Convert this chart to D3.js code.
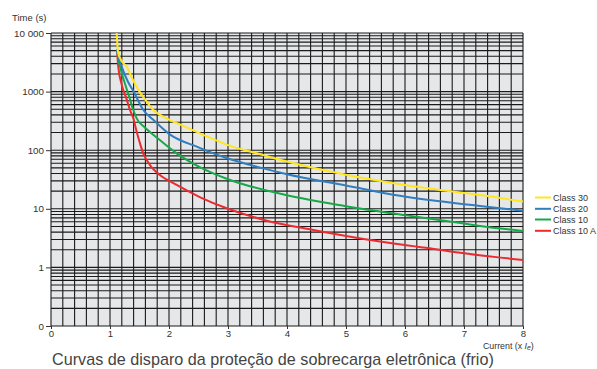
<!DOCTYPE html>
<html><head><meta charset="utf-8">
<script src="https://cdn.jsdelivr.net/npm/d3@7"></script>
<style>
html,body{margin:0;padding:0;background:#fff;}
svg{display:block;font-family:"Liberation Sans",Arial,Helvetica,sans-serif;}
</style></head>
<body>
<script>
// ---- data ----
const xTicks = [0,1,2,3,4,5,6,7,8];
const yTickValues = [0.1,1,10,100,1000,10000];
const yTickLabels = ["0","1","10","100","1000","10 000"];
const seriesNames = ["Class 30","Class 20","Class 10","Class 10 A"];
const seriesColors = ["#ffe61e","#2f7ec2","#17a84a","#ec2a30"];

const class30I = [1.113,1.14,1.2,1.283,1.4,1.5,1.6,1.734,1.96,2.2,2.525,3,3.5,4,5,5.915,7,7.27,8];
const class30T = [10000,4500,3300,2660,1500,1000,720,485,350,270,194,122,88,64,38,26.2,18.6,17.2,13.3];

const class20I = [1.12,1.15,1.198,1.3,1.4,1.565,1.734,2,2.5,3,3.5,4,5,5.915,7,7.27,8];
const class20T = [5200,3700,2660,1500,1000,485,330,190,112,72,52,39,25,16.7,12.0,11.2,9.3];

const class10I = [1.12,1.14,1.17,1.25,1.32,1.395,1.452,1.6,1.79,2.13,2.53,3,4,5,6,7,7.27,8];
const class10T = [5200,3600,2660,1400,850,485,350,240,165,88.5,51,32,17,11.1,7.8,5.6,5.1,4.2];

const class10AI = [1.12,1.14,1.2,1.28,1.339,1.395,1.45,1.508,1.56,1.622,1.7,1.847,2.13,2.53,3,3.627,4.446,5.576,6.42,7,8];
const class10AT = [5200,2660,1300,750,485,350,210,131,90,68,52,37.7,25.5,15.7,10,6.4,4.35,2.76,2.12,1.74,1.34];

// ---- layout ----
const W = 597, H = 369;
const L = 51, R = 523, T = 33, B = 326;

const svg = d3.select("body").append("svg").attr("width",W).attr("height",H);

const x = d3.scaleLinear().domain([0,8]).range([L,R]);
const y = d3.scaleLog().domain([0.1,10000]).range([B,T]);

// background
svg.append("rect").attr("x",L).attr("y",T).attr("width",R-L).attr("height",B-T).attr("fill","#e6e7e8");

// grid
const g = svg.append("g");
const vLines = d3.range(0,41).map(i=>i*0.2);
g.selectAll("line.v").data(vLines).join("line")
  .attr("x1",d=>x(d)).attr("x2",d=>x(d)).attr("y1",T).attr("y2",B)
  .attr("stroke","#1a1a1a").attr("stroke-width",1.1);
const hLines = [];
for (let e=-1;e<4;e++){ for(let m=1;m<10;m++){ hLines.push(m*Math.pow(10,e)); } }
hLines.push(10000);
g.selectAll("line.h").data(hLines).join("line")
  .attr("x1",L).attr("x2",R).attr("y1",d=>y(d)).attr("y2",d=>y(d))
  .attr("stroke","#1a1a1a").attr("stroke-width",1.1);

// axes
const yAxis = d3.axisLeft(y).tickValues(yTickValues).tickFormat((d,i)=>yTickLabels[i]).tickSize(5).tickPadding(2);
const ya = svg.append("g").attr("transform",`translate(${L},0)`).call(yAxis);
ya.select(".domain").remove();
ya.selectAll("line").attr("stroke","#333");
ya.selectAll("text").attr("font-size","9.8px").attr("fill","#333").attr("font-family","Liberation Sans, Arial, sans-serif");

const xAxis = d3.axisBottom(x).tickValues(xTicks).tickFormat(d3.format("d")).tickSize(3).tickPadding(1);
const xa = svg.append("g").attr("transform",`translate(0,${B})`).call(xAxis);
xa.select(".domain").remove();
xa.selectAll("line").attr("stroke","#333");
xa.selectAll("text").attr("font-size","9.6px").attr("fill","#333").attr("font-family","Liberation Sans, Arial, sans-serif");

// curves
const line = d3.line().x(d=>x(d[0])).y(d=>y(d[1])).curve(d3.curveMonotoneX);
const series = [
  {I:class10AI,T:class10AT,c:seriesColors[3]},
  {I:class10I,T:class10T,c:seriesColors[2]},
  {I:class20I,T:class20T,c:seriesColors[1]},
  {I:class30I,T:class30T,c:seriesColors[0]}
];
series.forEach(s=>{
  svg.append("path").datum(s.I.map((v,i)=>[v,s.T[i]]))
    .attr("d",line).attr("fill","none").attr("stroke",s.c).attr("stroke-width",2);
});

// labels
svg.append("text").attr("x",12).attr("y",21).attr("font-size","9.5px").attr("fill","#333").text("Time (s)");

const cur = svg.append("text").attr("x",483).attr("y",348.5).attr("font-size","8.8px").attr("fill","#333");
cur.append("tspan").text("Current (x ");
cur.append("tspan").attr("font-style","italic").text("I");
cur.append("tspan").attr("font-style","italic").attr("font-size","6.8px").attr("dy",1.5).text("e");
cur.append("tspan").attr("dy",-1.5).text(")");

svg.append("text").attr("x",52).attr("y",365).attr("font-size","16.2px").attr("fill","#444")
  .attr("font-family","Liberation Sans, Arial, sans-serif").text("Curvas de disparo da proteção de sobrecarga eletrônica (frio)");

// legend
const legY = [197.5,208.8,219.5,230.8];
seriesNames.forEach((n,i)=>{
  svg.append("line").attr("x1",535).attr("x2",551).attr("y1",legY[i]).attr("y2",legY[i])
    .attr("stroke",seriesColors[i]).attr("stroke-width",2);
  svg.append("text").attr("x",553).attr("y",legY[i]+3.2).attr("font-size","9px").attr("fill","#333").text(n);
});
</script>
</body></html>
